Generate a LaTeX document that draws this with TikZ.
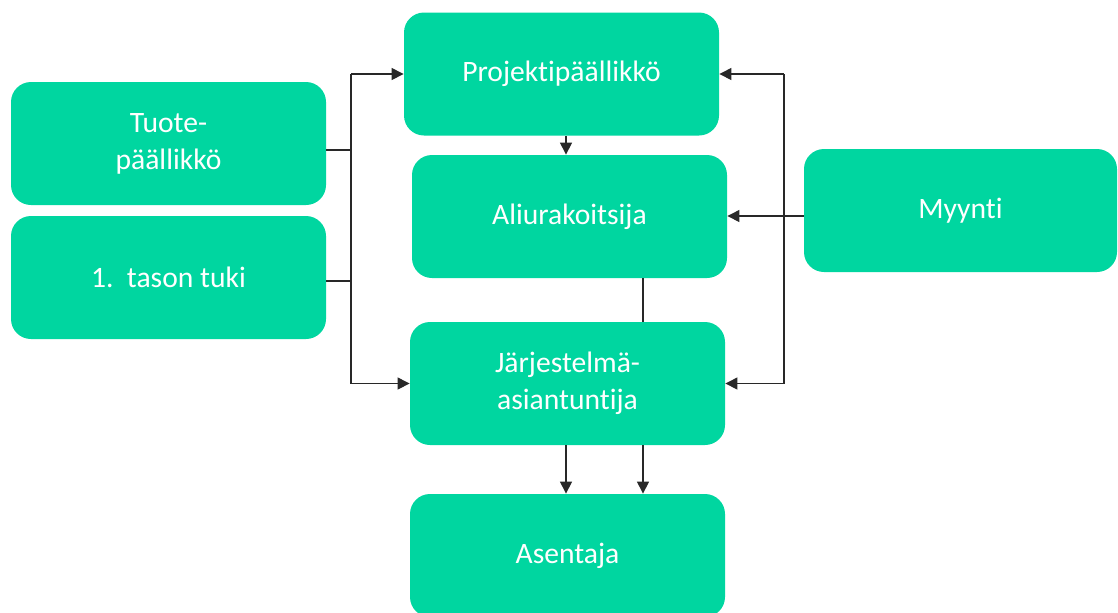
\documentclass[tikz,border=0pt]{standalone}
\usepackage{fontspec}
\setmainfont{Carlito}[RawFeature=-liga]
\usetikzlibrary{arrows.meta,calc}
\definecolor{boxgreen}{RGB}{0,214,160}
\definecolor{linegray}{RGB}{40,40,40}
\tikzset{
  box/.style={draw=none, fill=boxgreen, rounded corners=10pt, minimum width=157.5pt,
    minimum height=61.5pt, inner sep=0pt, text=white, align=center,
    font=\fontsize{14.8pt}{18.5pt}\selectfont},
  conn/.style={draw=linegray, line width=0.55pt},
  arr/.style={conn, -{Triangle[length=6pt,width=6pt]}}
}
\begin{document}
\begin{tikzpicture}[x=0.5pt,y=-0.5pt]
\useasboundingbox (0,0) rectangle (1118,612);
\node[box] (tuote) at (168.5,143.5) {Tuote-\\päällikkö};
\node[box] (tuki) at (168.5,277.5) {1.\ \ tason tuki};
\node[box] (proj) at (561.5,74) {Projektipäällikkö};
\node[box] (ali) at (569.5,216.5) {Aliurakoitsija};
\node[box, minimum width=156.5pt] (myy) at (960.5,210.5) {Myynti};
\node[box] (jar) at (567.5,383.5) {Järjestelmä-\\asiantuntija};
\node[box] (ase) at (567.5,555.5) {Asentaja};
% left bus
\coordinate (lb1) at (351,150);
\coordinate (lb2) at (351,281);
\coordinate (ltop) at (351,74);
\coordinate (lbot) at (351,383.5);
\draw[conn] (tuote.east |- lb1) -- (lb1);
\draw[conn] (tuki.east |- lb2) -- (lb2);
\draw[conn] (ltop) -- (lbot);
\draw[arr] (ltop) -- (proj.west);
\draw[arr] (lbot) -- (jar.west);
% right bus
\coordinate (rj) at (784,216);
\coordinate (rtop) at (784,74);
\coordinate (rbot) at (784,383.5);
\draw[arr] (myy.west |- rj) -- (ali.east |- rj);
\draw[conn] (rtop) -- (rbot);
\draw[arr] (rtop) -- (proj.east);
\draw[arr] (rbot) -- (jar.east);
% vertical links
\draw[arr] (proj.south -| 566,0) -- (ali.north -| 566,0);
\draw[conn] (ali.south -| 643,0) -- (jar.north -| 643,0);
\draw[arr] (jar.south -| 566,0) -- (ase.north -| 566,0);
\draw[arr] (jar.south -| 643,0) -- (ase.north -| 643,0);
\end{tikzpicture}
\end{document}
